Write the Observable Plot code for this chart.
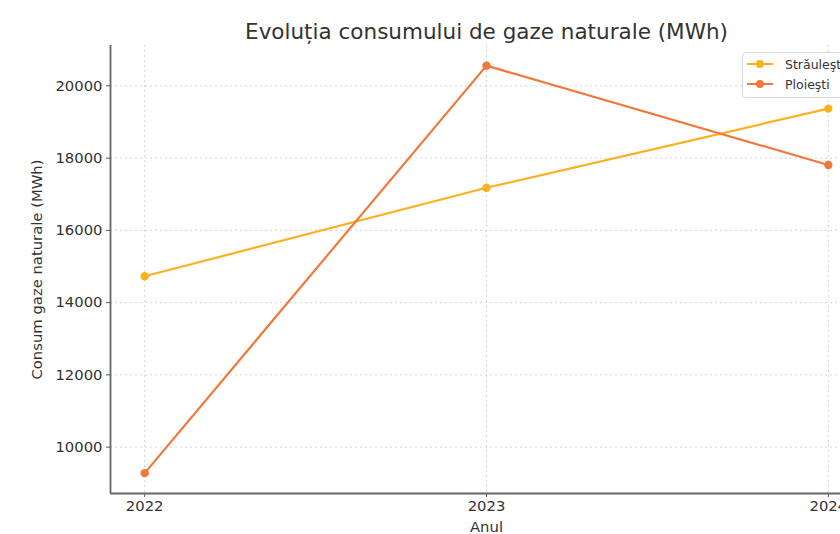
<!DOCTYPE html>
<html>
<head>
<meta charset="utf-8">
<script src="https://cdn.jsdelivr.net/npm/d3@7"></script>
<script src="https://cdn.jsdelivr.net/npm/@observablehq/plot@0.6"></script>
<style>
  html, body { margin: 0; padding: 0; background: #fff; overflow: hidden; width: 840px; height: 534px; }
  #wrap { position: relative; width: 880px; height: 534px; font-family: "DejaVu Sans", sans-serif; }
  #legend { position: absolute; left: 742px; top: 52px; width: 118px; height: 44px; border: 1px solid #d8d8d8; border-radius: 4px; background: rgba(255,255,255,0.85); font-size: 12.5px; color: #333; }
  .row { position: absolute; left: 4px; height: 20px; display: flex; align-items: center; }
  .row span { margin-left: 12px; }
</style>
</head>
<body>
<div id="wrap"></div>
<script>
const years = [2022, 2023, 2024];
const strauleşti = [14730, 17180, 19370];
const ploiesti = [9280, 20560, 17810];
const seriesNames = ["Străuleşti", "Ploieşti"];
const seriesColors = ["#FDB11F", "#F4773A"];
const yTicks = [10000, 12000, 14000, 16000, 18000, 20000];
const xDomain = [2021.9, 2024.1];
const yDomain = [8716, 21118];

const data = [];
years.forEach((y, i) => {
  data.push({year: y, value: strauleşti[i], s: seriesNames[0]});
  data.push({year: y, value: ploiesti[i], s: seriesNames[1]});
});

const chart = Plot.plot({
  width: 880,
  height: 534,
  marginLeft: 110,
  marginRight: 18,
  marginTop: 45,
  marginBottom: 41,
  style: {fontFamily: "DejaVu Sans, sans-serif", fontSize: "15px", color: "#333", maxWidth: "none", background: "white"},
  x: {domain: xDomain},
  y: {domain: yDomain},
  color: {domain: seriesNames, range: seriesColors},
  marks: [
    Plot.gridX(years, {stroke: "#bbb", strokeOpacity: 0.8, strokeDasharray: "2,3", strokeWidth: 0.8}),
    Plot.gridY(yTicks, {stroke: "#bbb", strokeOpacity: 0.8, strokeDasharray: "2,3", strokeWidth: 0.8}),
    Plot.axisX(years, {tickFormat: d => String(d), tickSize: 4, tickPadding: 3, fontSize: 14.8, label: "Anul", labelAnchor: "center", labelArrow: "none", labelOffset: 38, stroke: "#555"}),
    Plot.axisY(yTicks, {tickFormat: d => String(d), tickSize: 4, tickPadding: 4, fontSize: 14.8, label: "Consum gaze naturale (MWh)", labelAnchor: "center", labelArrow: "none", labelOffset: 79, stroke: "#555"}),
    Plot.ruleX([xDomain[0]], {stroke: "#666", strokeWidth: 1.8}),
    Plot.ruleY([yDomain[0]], {stroke: "#666", strokeWidth: 1.8}),
    Plot.line(data, {x: "year", y: "value", stroke: "s", strokeWidth: 2.2}),
    Plot.dot(data, {x: "year", y: "value", fill: "s", r: 4.2}),
    Plot.text(["Evoluția consumului de gaze naturale (MWh)"], {frameAnchor: "top", dy: -22, fontSize: 21.5, fill: "#333", text: d => d})
  ]
});
document.getElementById("wrap").appendChild(chart);

const legend = document.createElement("div");
legend.id = "legend";
seriesNames.forEach((n, i) => {
  const row = document.createElement("div");
  row.className = "row";
  row.style.top = (i * 20 + 1) + "px";
  row.innerHTML = `<svg width="26" height="10"><line x1="0" y1="5" x2="26" y2="5" stroke="${seriesColors[i]}" stroke-width="2"/><circle cx="13" cy="5" r="4" fill="${seriesColors[i]}"/></svg><span>${n}</span>`;
  legend.appendChild(row);
});
document.getElementById("wrap").appendChild(legend);
</script>
</body>
</html>
